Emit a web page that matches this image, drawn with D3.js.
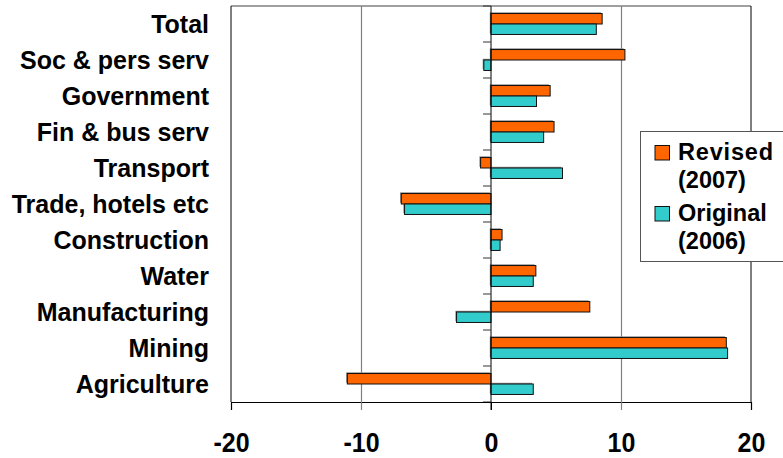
<!DOCTYPE html>
<html>
<head>
<meta charset="utf-8">
<script src="https://cdn.jsdelivr.net/npm/d3@7/dist/d3.min.js"></script>
<style>
  html, body { margin: 0; padding: 0; background: #fff; }
  svg { display: block; }
  text { font-family: "Liberation Sans", Arial, sans-serif; font-weight: bold; fill: #000; }
</style>
</head>
<body>
<svg id="chart" width="783" height="458"></svg>
<script>
// Sectors, listed top to bottom
const categories = ["Total", "Soc & pers serv", "Government", "Fin & bus serv", "Transport",
  "Trade, hotels etc", "Construction", "Water", "Manufacturing", "Mining", "Agriculture"];

// Growth by sector (%), revised 2007 estimate and original 2006 estimate
const revised2007 = [8.55, 10.3, 4.55, 4.85, -0.8, -6.9, 0.85, 3.45, 7.6, 18.1, -11.05];
const original2006 = [8.1, -0.55, 3.5, 4.05, 5.5, -6.65, 0.7, 3.25, -2.65, 18.2, 3.25];

const seriesNames = ["Revised", "Original"];
const seriesYears = ["(2007)", "(2006)"];
const seriesColors = ["#FF6600", "#33CCCC"];
const xTicks = [-20, -10, 0, 10, 20];

const rows = categories.map((c, i) => ({
  cat: c,
  vals: [revised2007[i], original2006[i]]
}));

const svg = d3.select("#chart");
const plot = { left: 231, right: 751, top: 6, bottom: 402 };

const x = d3.scaleLinear().domain([-20, 20]).range([plot.left, plot.right]);
const y = d3.scaleBand().domain(categories).range([plot.top, plot.bottom]).padding(0);
const ySub = d3.scaleBand().domain([0, 1]).range([0, y.bandwidth()])
  .paddingInner(0).paddingOuter(0.72);

// Plot frame: grey top edge, black left/right edges
svg.append("line").attr("x1", plot.left).attr("x2", plot.right)
  .attr("y1", plot.top).attr("y2", plot.top)
  .attr("stroke", "#808080").attr("stroke-width", 1.3);
svg.append("line").attr("x1", plot.left).attr("x2", plot.left)
  .attr("y1", plot.top).attr("y2", plot.bottom).attr("stroke", "#000");
svg.append("line").attr("x1", plot.right).attr("x2", plot.right)
  .attr("y1", plot.top).attr("y2", plot.bottom).attr("stroke", "#000");

// Vertical gridlines
svg.append("g").selectAll("line")
  .data(xTicks.filter(t => t !== 0 && t !== -20 && t !== 20))
  .join("line")
  .attr("x1", d => Math.round(x(d)) + 0.5).attr("x2", d => Math.round(x(d)) + 0.5)
  .attr("y1", plot.top).attr("y2", plot.bottom + 8)
  .attr("stroke", "#808080").attr("stroke-width", 1.2);

// Bars with a soft offset shadow
const groups = svg.append("g").selectAll("g")
  .data(rows)
  .join("g")
  .attr("transform", d => `translate(0,${y(d.cat)})`);

groups.selectAll("rect.shadow")
  .data(d => d.vals.map((v, k) => ({ v, k })))
  .join("rect")
  .attr("class", "shadow")
  .attr("x", d => Math.min(x(0), x(d.v)) - 1.2)
  .attr("y", d => ySub(d.k) - 1.2)
  .attr("width", d => Math.abs(x(d.v) - x(0)))
  .attr("height", ySub.bandwidth())
  .attr("fill", "#888");

groups.selectAll("rect.bar")
  .data(d => d.vals.map((v, k) => ({ v, k })))
  .join("rect")
  .attr("class", "bar")
  .attr("x", d => Math.min(x(0), x(d.v)))
  .attr("y", d => ySub(d.k))
  .attr("width", d => Math.abs(x(d.v) - x(0)))
  .attr("height", ySub.bandwidth())
  .attr("fill", d => seriesColors[d.k])
  .attr("stroke", "#111").attr("stroke-width", 1);

// Category axis at zero, ticks between sectors
const yAxisG = svg.append("g");
yAxisG.append("line")
  .attr("x1", x(0)).attr("x2", x(0))
  .attr("y1", plot.top).attr("y2", plot.bottom + 8)
  .attr("stroke", "#000");
const boundaries = categories.map(c => y(c)).concat([plot.bottom]);
yAxisG.selectAll("line.tk")
  .data(boundaries)
  .join("line")
  .attr("class", "tk")
  .attr("x1", x(0) - 8).attr("x2", x(0))
  .attr("y1", d => d).attr("y2", d => d)
  .attr("stroke", "#333");

// Category labels
svg.append("g").selectAll("text")
  .data(categories)
  .join("text")
  .attr("x", 209)
  .attr("y", d => y(d) + y.bandwidth() / 2)
  .attr("dy", "0.35em")
  .attr("text-anchor", "end")
  .attr("font-size", 25)
  .text(d => d);

// Value axis along the bottom
const xAxis = d3.axisBottom(x).tickValues(xTicks).tickSize(8).tickPadding(0)
  .tickFormat(d => String(d));
const xg = svg.append("g").attr("transform", `translate(0,${plot.bottom})`).call(xAxis);
xg.select(".domain").attr("stroke", "#000").attr("stroke-width", 1.2);
xg.selectAll(".tick line").attr("stroke", d => (d === -10 || d === 10) ? "#808080" : "#000");
xg.selectAll(".tick text")
  .attr("font-size", 25)
  .attr("font-family", "Liberation Sans, Arial, sans-serif")
  .attr("font-weight", "bold")
  .attr("fill", "#000")
  .attr("y", 0).attr("dy", 0)
  .attr("transform", "translate(0,50) scale(1,1.1)");

// Legend: each entry is a swatch plus a two-line label
const lg = svg.append("g").attr("transform", "translate(640,131)");
lg.append("rect").attr("x", 0.5).attr("y", 0.5).attr("width", 160).attr("height", 130)
  .attr("fill", "#fff").attr("stroke", "#555");
seriesNames.forEach((name, k) => {
  const base = 29 + k * 61;
  lg.append("rect").attr("x", 15).attr("y", base - 14.5).attr("width", 14.5).attr("height", 14.5)
    .attr("fill", seriesColors[k]).attr("stroke", "#111");
  lg.append("text").attr("x", 38).attr("y", base).attr("font-size", 23.5)
    .attr("textLength", name === "Revised" ? 95 : null)
    .text(name);
  lg.append("text").attr("x", 38).attr("y", base + 27.5).attr("font-size", 23.5)
    .text(seriesYears[k]);
});
</script>
</body>
</html>
